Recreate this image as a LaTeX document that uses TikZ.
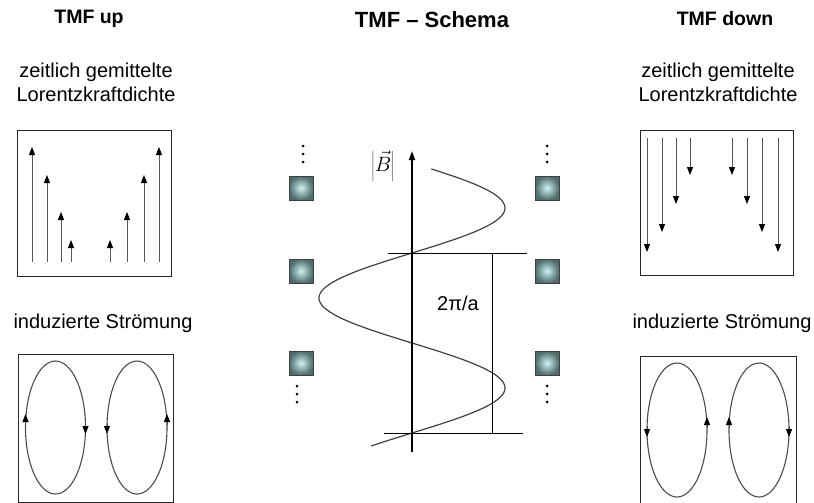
\documentclass[tikz,border=0pt]{standalone}
\usepackage{fontspec}
\setmainfont{Liberation Sans}
\usetikzlibrary{arrows.meta}
\definecolor{magout}{RGB}{78,108,108}
\definecolor{magin}{RGB}{205,242,244}
\tikzset{
  lbl/.style={inner sep=0pt, align=center, font=\fontsize{20}{24}\selectfont},
  ttl/.style={inner sep=0pt, font=\bfseries\fontsize{19.5}{23}\selectfont},
  panel/.style={draw=black!85, line width=0.9pt},
  force/.style={draw=black!65, line width=1pt, -{Triangle[width=6pt,length=8pt,color=black]}},
  tipx/.style={draw=black!70, line width=1pt, -{Triangle[width=6pt,length=8pt,color=black]}},
  flow/.style={draw=black!70, line width=1.1pt},
  magnet/.style={inner color=magin, outer color=magout},
  dotx/.style={fill=black},
}
\begin{document}
\begin{tikzpicture}[x=1pt,y=-1pt]
\useasboundingbox (0,0) rectangle (814,503);
% titles
\node[ttl] (t1) at (89,19) {TMF up};
\node[ttl, font=\bfseries\fontsize{22}{26}\selectfont] (t2) at (432,20) {TMF -- Schema};
\node[ttl] (t3) at (725,19) {TMF down};
% left top
\node[lbl] (l1) at (96,82) {zeitlich gemittelte\\Lorentzkraftdichte};
\draw[panel] (17,130) rectangle (171,276);
\foreach \xx/\yy in {32/147,47/175,61/212,71/240,110/240,127/212,144/175,159/147}
  \draw[force] (\xx,262) -- (\xx,\yy);
% left bottom
\node[lbl] (l2) at (103,323) {induzierte Strömung};
\draw[panel] (18,354) rectangle (173,502);
\draw[flow] (55.5,427.5) ellipse [x radius=30, y radius=66.5];
\draw[flow] (137,427.5) ellipse [x radius=30, y radius=66.5];
\draw[tipx] (25.5,425) -- (25.5,414);
\draw[tipx] (85.5,423) -- (85.5,434);
\draw[tipx] (107,423) -- (107,434);
\draw[tipx] (167,425) -- (167,414);
% right top
\node[lbl] (r1) at (718,82) {zeitlich gemittelte\\Lorentzkraftdichte};
\draw[panel] (640,130) rectangle (793,275);
\foreach \xx/\yy in {647/252,662/232,676/204,690/175,732/175,747/204,762/232,778/252}
  \draw[force] (\xx,138) -- (\xx,\yy);
% right bottom
\node[lbl] (r2) at (722,323) {induzierte Strömung};
\draw[panel] (640,356) rectangle (796,508);
\draw[flow] (677,430) ellipse [x radius=30, y radius=67];
\draw[flow] (759,430) ellipse [x radius=30, y radius=67];
\draw[tipx] (647,426) -- (647,437);
\draw[tipx] (707,428) -- (707,417);
\draw[tipx] (729,428) -- (729,417);
\draw[tipx] (789,426) -- (789,437);
% centre: magnets
\foreach \xx in {301,547}
  \foreach \yy in {188,271,363} {
    \shade[magnet] (\xx-12,\yy-12) rectangle (\xx+12,\yy+12);
    \draw[black!75, line width=0.9pt] (\xx-12,\yy-12) rectangle (\xx+12,\yy+12);
  }
% dots
\foreach \xx/\yy in {303/146,297/386,547/146,547/386}
  \foreach \k in {0,8,16}
    \fill[dotx] (\xx,\yy+\k) circle (1.5);
% field curve
\draw[black!75, line width=1.2pt] plot[domain=169:446, samples=150, smooth] ({412+93*sin(2*(253-\x))}, \x);
% axis
\draw[black, line width=1.8pt, -{Triangle[width=6pt,length=9pt]}] (412,452) -- (412,151);
\node[inner sep=0pt, font=\fontsize{21}{25}\selectfont] (bl) at (383,166) {$\left|\vec{B}\right|$};
% period markers
\draw[black, line width=0.8pt] (388,253) -- (527,253);
\draw[black, line width=0.8pt] (384,433) -- (523,433);
\draw[black, line width=0.8pt] (492,253) -- (492,433);
\node[lbl] (per) at (458,303) {2π/a};
\end{tikzpicture}
\end{document}
